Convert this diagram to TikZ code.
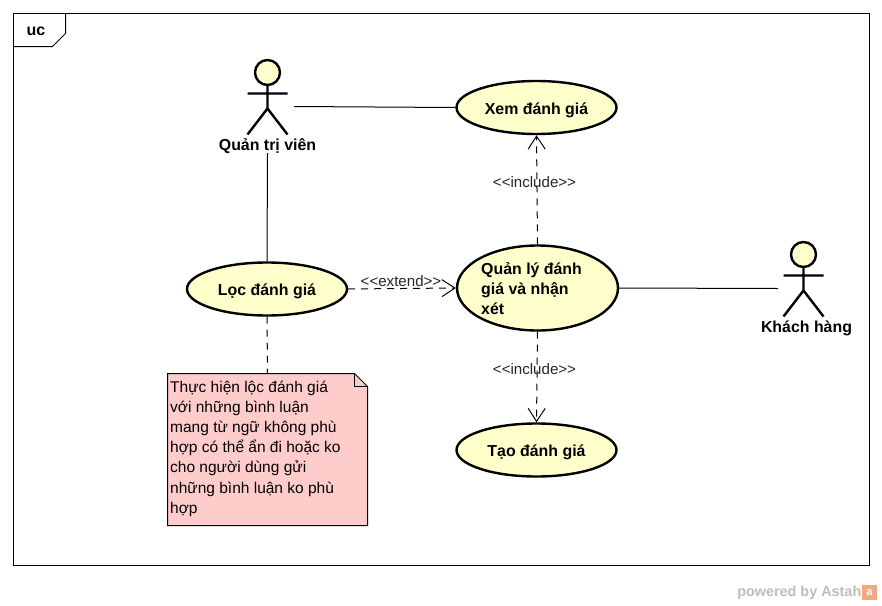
\documentclass[tikz,border=0pt]{standalone}
\usepackage{fontspec}
\setmainfont[Ligatures=NoCommon]{Liberation Sans}
\usetikzlibrary{shapes.geometric,arrows.meta}
\definecolor{ucfill}{HTML}{FFFFCC}
\definecolor{notefill}{HTML}{FFCCCC}
\definecolor{wm}{HTML}{BDBDBD}
\definecolor{astah}{HTML}{F2A97E}
\tikzset{
  uc/.style={ellipse,draw=black,line width=2.4pt,fill=ucfill,inner sep=0pt,font=\fontsize{15.9}{20}\selectfont\bfseries},
  actorlabel/.style={inner sep=0pt,font=\fontsize{15.9}{18}\selectfont\bfseries},
  stereo/.style={inner sep=0pt,font=\fontsize{15.1}{16}\selectfont,text=black!85},
  assoc/.style={line width=1pt,black},
  dep/.style={line width=1pt,black,dashed,dash pattern=on 7pt off 6pt,-{Straight Barb[length=13pt,width=17pt,line width=1pt]}},
  stick/.style={line width=2.4pt,black}
}
\newcommand{\uctext}[1]{\smash{\raisebox{-6.5pt}{#1}}}
\newcommand{\stickman}[3]{%
  \draw[stick,fill=ucfill] (#1,#2-21) circle[radius=12.5];
  \draw[stick] (#1,#2-8.5) -- (#1,#2+15) (#1-20,#2) -- (#1+20,#2)
    (#1-20,#2+41) -- (#1,#2+15) -- (#1+20,#2+41);
  \coordinate (#3) at (#1,#2);
}
\begin{document}
\begin{tikzpicture}[x=1pt,y=-1pt]
\useasboundingbox (0,0) rectangle (882,605);
\draw[line width=1pt,fill=white] (13.5,13.5) rectangle (869.5,565.5);
\draw[line width=1pt] (13.5,46.5) -- (52.5,46.5) -- (65.5,33.5) -- (65.5,13.5);
\node[inner sep=0pt,font=\fontsize{15.9}{18}\selectfont\bfseries] (frame) at (36,31.5) {uc};

\stickman{267.5}{93.5}{adminbody}
\stickman{803.5}{275.5}{custbody}
\node[actorlabel] (admin) at (267.5,146.5) {Quản trị viên};
\node[actorlabel] (cust) at (806.5,328) {Khách hàng};
\coordinate (adminR) at (294,106.5);
\coordinate (adminB) at (267.5,153);
\coordinate (custL) at (778,288.5);

\node[uc,minimum width=160pt,minimum height=53pt] (xem) at (536.5,107.5) {\uctext{Xem đánh giá}};
\node[uc,minimum width=161pt,minimum height=85pt] (ql) at (537.5,288) {};
\node[inner sep=0pt,anchor=west,align=left,font=\fontsize{15.9}{20}\selectfont\bfseries] (qltext) at (481,288.5) {Quản lý đánh\\giá và nhận\\xét};
\node[uc,minimum width=160pt,minimum height=53pt] (loc) at (267,289) {\uctext{Lọc đánh giá}};
\node[uc,minimum width=160pt,minimum height=53pt] (tao) at (536.5,450) {\uctext{Tạo đánh giá}};

\draw[line width=1pt,fill=notefill] (167.5,373.5) -- (354.5,373.5) -- (367.5,386.5) -- (367.5,525.5) -- (167.5,525.5) -- cycle;
\draw[line width=1pt] (354.5,373.5) -- (354.5,386.5) -- (367.5,386.5);
\coordinate (notetop) at (267.5,373.5);
\node[inner sep=0pt,anchor=north west,align=left,font=\fontsize{15.5}{20.2}\selectfont] (notetext) at (170,380.5) {Thực hiện lộc đánh giá\\với những bình luận\\mang từ ngữ không phù\\hợp có thể ẩn đi hoặc ko\\cho người dùng gửi\\những bình luận ko phù\\hợp};

\draw[assoc] (adminR) -- (xem.west);
\draw[assoc] (adminB) -- (loc.north);
\draw[assoc] (ql.east) -- (custL);
\draw[assoc,dashed,dash pattern=on 7pt off 6pt] (loc.south) -- (notetop);
\draw[dep] (ql.north) -- (xem.south);
\draw[dep] (ql.south) -- (tao.north);
\draw[dep] (loc.east) -- (ql.west);

\node[stereo] (inc1) at (534.5,182) {<{}<include>{}>};
\node[stereo] (inc2) at (534.5,369) {<{}<include>{}>};
\node[stereo] (ext) at (401,281) {<{}<extend>{}>};

\node[inner sep=0pt,anchor=east,text=wm,font=\fontsize{14.4}{16}\selectfont\bfseries] (wmtext) at (861.5,592.5) {powered by Astah};
\node[fill=astah,minimum size=15pt,inner sep=0pt,text=white,font=\fontsize{11}{12}\selectfont\bfseries] (wmicon) at (869.5,592.5) {a};
\end{tikzpicture}
\end{document}
